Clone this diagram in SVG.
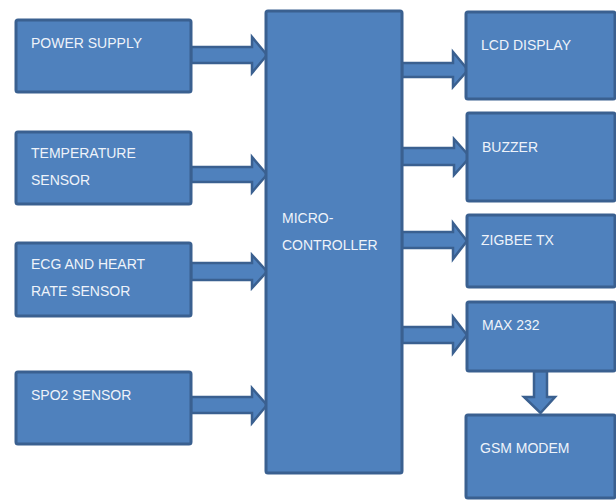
<svg xmlns="http://www.w3.org/2000/svg" width="616" height="500" viewBox="0 0 616 500">
<style>
.box{fill:#4f81bd;stroke:#3a6090;stroke-width:3;}
.arr{fill:#4f81bd;stroke:#3a6090;stroke-width:2.5;stroke-linejoin:miter;}
.t{font-family:"Liberation Sans",Arial,sans-serif;font-size:14px;fill:#eef3fa;}
</style>
<rect width="616" height="500" fill="#ffffff"/>
<g id="connectors">
<polygon class="arr" points="191,47 252,47 252,37 267,55 252,73 252,63 191,63"/>
<polygon class="arr" points="191,167 252,167 252,157 267,174.5 252,192 252,182 191,182"/>
<polygon class="arr" points="191,263 252,263 252,255 267,271.5 252,288 252,280 191,280"/>
<polygon class="arr" points="191,397 252,397 252,388 267,405 252,423 252,413 191,413"/>
<polygon class="arr" points="402,63 453,63 453,52 468,70 453,87 453,77 402,77"/>
<polygon class="arr" points="402,148 454,148 454,139 470,157 454,175 454,165 402,165"/>
<polygon class="arr" points="402,232 453,232 453,223 467,241 453,259 453,248 402,248"/>
<polygon class="arr" points="402,327 453,327 453,317 467,335 453,353 453,343 402,343"/>
<polygon class="arr" points="534,371 547,371 547,397 555,397 540.5,413 524,397 534,397"/>
</g>
<g id="power-supply"><rect class="box" x="16" y="20" width="175" height="72" rx="2"/><text class="t" x="31" y="48">POWER  SUPPLY</text></g>
<g id="temperature-sensor"><rect class="box" x="16" y="132" width="175" height="72" rx="2"/><text class="t" x="31" y="158">TEMPERATURE</text><text class="t" x="31" y="185">SENSOR</text></g>
<g id="ecg-sensor"><rect class="box" x="16" y="243" width="175" height="73" rx="2"/><text class="t" x="31" y="269">ECG AND HEART</text><text class="t" x="31" y="296">RATE SENSOR</text></g>
<g id="spo2-sensor"><rect class="box" x="16" y="372" width="175" height="72" rx="2"/><text class="t" x="31" y="400">SPO2  SENSOR</text></g>
<g id="microcontroller"><rect class="box" x="266" y="11" width="136" height="462" rx="2"/><text class="t" x="282" y="223">MICRO-</text><text class="t" x="282" y="250">CONTROLLER</text></g>
<g id="lcd-display"><rect class="box" x="466" y="12" width="149" height="87" rx="2"/><text class="t" x="481" y="50">LCD DISPLAY</text></g>
<g id="buzzer"><rect class="box" x="467" y="113" width="148" height="88" rx="2"/><text class="t" x="482" y="152">BUZZER</text></g>
<g id="zigbee-tx"><rect class="box" x="467" y="215" width="148" height="72" rx="2"/><text class="t" x="481" y="245">ZIGBEE TX</text></g>
<g id="max232"><rect class="box" x="467" y="302" width="148" height="69" rx="2"/><text class="t" x="482" y="330">MAX 232</text></g>
<g id="gsm-modem"><rect class="box" x="466" y="415" width="149" height="83" rx="2"/><text class="t" x="480" y="453">GSM MODEM</text></g>
</svg>
